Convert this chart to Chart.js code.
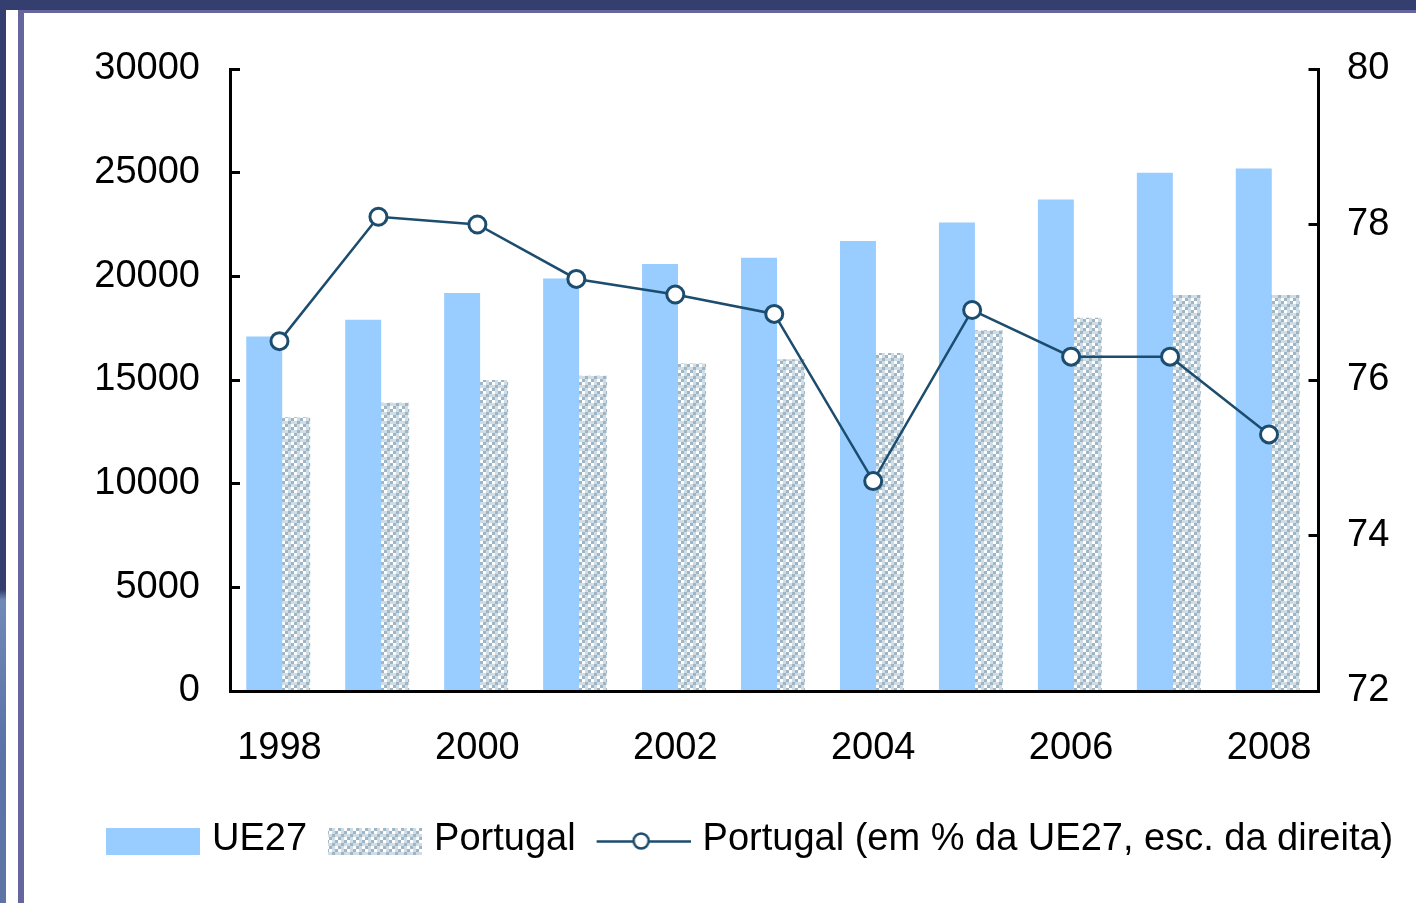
<!DOCTYPE html>
<html><head><meta charset="utf-8">
<script src="https://cdn.jsdelivr.net/npm/chart.js@4/dist/chart.umd.min.js"></script>
<style>
html,body{margin:0;padding:0;background:#fff;width:1416px;height:903px;overflow:hidden;position:relative}
#topband{position:absolute;left:0;top:0;width:1416px;height:10px;background:#353F6F}
#topline{position:absolute;left:18px;top:10px;width:1398px;height:3px;background:#66669E}
#leftband{position:absolute;left:0;top:0;width:6px;height:903px;background:linear-gradient(to bottom,#353F6F 0,#353F6F 590px,#7089B8 600px,#5A73A8 750px,#5E74A6 903px)}
#leftline{position:absolute;left:18px;top:10px;width:6px;height:893px;background:#66669E}
#wrap{position:absolute;left:24px;top:13px;width:1392px;height:890px}
canvas{display:block}
</style></head><body>
<div id="topband"></div><div id="leftband"></div><div id="topline"></div><div id="leftline"></div>
<div id="wrap"><canvas id="c" width="1392" height="890"></canvas></div>
<script>
// ---- data ----
const years = ['1998','1999','2000','2001','2002','2003','2004','2005','2006','2007','2008'];
const ue27 = [17100, 17900, 19200, 19900, 20600, 20900, 21700, 22600, 23700, 25000, 25200];
const portugal = [13200, 13900, 15000, 15200, 15800, 16000, 16300, 17400, 18000, 19100, 19100];
const pctUE = [76.5, 78.1, 78.0, 77.3, 77.1, 76.85, 74.7, 76.9, 76.3, 76.3, 75.3];
const seriesNames = ['UE27', 'Portugal', 'Portugal (em % da UE27, esc. da direita)'];
const leftTicks = {min: 0, max: 30000, step: 5000};
const rightTicks = {min: 72, max: 80, step: 2};

// ---- styles ----
const FONT = "'Liberation Sans', Arial, sans-serif";
const UE_COLOR = '#99CCFF';
const LINE_COLOR = '#1C4D6E';
Chart.defaults.font.family = FONT;
Chart.defaults.color = '#000';

function makePattern(g) {
  const t = document.createElement('canvas'); t.width = 9; t.height = 9;
  const tg = t.getContext('2d');
  const W = '#FFFFFF', L = '#D0DDE5', D = '#9EB5C5';
  const cells = [[W, L, D], [L, D, L], [D, L, W]];
  for (let r = 0; r < 3; r++) for (let c = 0; c < 3; c++) { tg.fillStyle = cells[r][c]; tg.fillRect(c * 3, r * 3, 3, 3); }
  return g.createPattern(t, 'repeat');
}
function icon(draw) {
  const c = document.createElement('canvas'); c.width = 111; c.height = 36;
  draw(c.getContext('2d')); return c;
}
const icons = [
  icon(g => { g.fillStyle = UE_COLOR; g.fillRect(17, 6, 94, 27); }),
  icon(g => { g.fillStyle = makePattern(g); g.fillRect(17, 6, 94, 27); }),
  icon(g => {
    g.strokeStyle = LINE_COLOR; g.lineWidth = 2.5;
    g.beginPath(); g.moveTo(17, 19.5); g.lineTo(111, 19.5); g.stroke();
    g.beginPath(); g.arc(61.5, 19, 7.5, 0, Math.PI * 2); g.fillStyle = '#fff'; g.fill();
    g.lineWidth = 2.5; g.stroke();
  })
];

const ctx = document.getElementById('c').getContext('2d');
const ptPattern = makePattern(ctx);
const tickFont = {size: 38, family: FONT};
const yGrid = {drawOnChartArea: false, drawTicks: true, tickLength: -10, tickWidth: 3, tickColor: '#000'};
const axisBorder = {display: true, color: '#000', width: 3, z: 1};

new Chart(ctx, {
  data: {
    labels: years,
    datasets: [
      {type: 'bar', label: seriesNames[0], data: ue27, backgroundColor: UE_COLOR, yAxisID: 'y', order: 1,
       categoryPercentage: 0.616, barPercentage: 1.18},
      {type: 'bar', label: seriesNames[1], data: portugal, backgroundColor: ptPattern, yAxisID: 'y', order: 2,
       categoryPercentage: 0.616, barPercentage: 1.016},
      {type: 'line', label: seriesNames[2], data: pctUE, yAxisID: 'y1', order: 0,
       borderColor: LINE_COLOR, borderWidth: 2.5, tension: 0, fill: false,
       pointRadius: 8.5, pointBorderWidth: 3, pointBackgroundColor: '#fff', pointBorderColor: LINE_COLOR}
    ]
  },
  options: {
    responsive: false, animation: false, devicePixelRatio: 1,
    layout: {padding: {left: 61, right: 0, top: 56, bottom: 34}},
    plugins: {
      tooltip: {enabled: false},
      legend: {
        position: 'bottom', align: 'start',
        labels: {
          usePointStyle: true, pointStyleWidth: 97, boxHeight: 38, padding: 11,
          font: {size: 38, family: FONT}, color: '#000',
          sort: (a, b) => a.datasetIndex - b.datasetIndex,
          generateLabels(chart) {
            const items = Chart.defaults.plugins.legend.labels.generateLabels(chart);
            items.forEach(it => { it.pointStyle = icons[it.datasetIndex]; });
            return items;
          }
        }
      }
    },
    scales: {
      x: {
        grid: {display: false},
        border: axisBorder,
        ticks: {font: tickFont, color: '#000', padding: 27, autoSkip: false, maxRotation: 0,
          callback(v, i) { return i % 2 === 0 ? this.getLabelForValue(v) : ''; }},
        afterFit(s) { s.height = 119; }
      },
      y: {
        position: 'left', min: leftTicks.min, max: leftTicks.max,
        ticks: {stepSize: leftTicks.step, padding: 40, font: tickFont, color: '#000', callback: v => String(v)},
        grid: yGrid, border: axisBorder,
        afterFit(s) { s.width = 145; s.paddingTop = 0; s.paddingBottom = 0; }
      },
      y1: {
        position: 'right', min: rightTicks.min, max: rightTicks.max,
        ticks: {stepSize: rightTicks.step, padding: 38.5, font: tickFont, color: '#000', callback: v => String(v)},
        grid: yGrid, border: axisBorder,
        afterFit(s) { s.width = 97.5; s.paddingTop = 0; s.paddingBottom = 0; }
      }
    }
  }
});
</script>
</body></html>
